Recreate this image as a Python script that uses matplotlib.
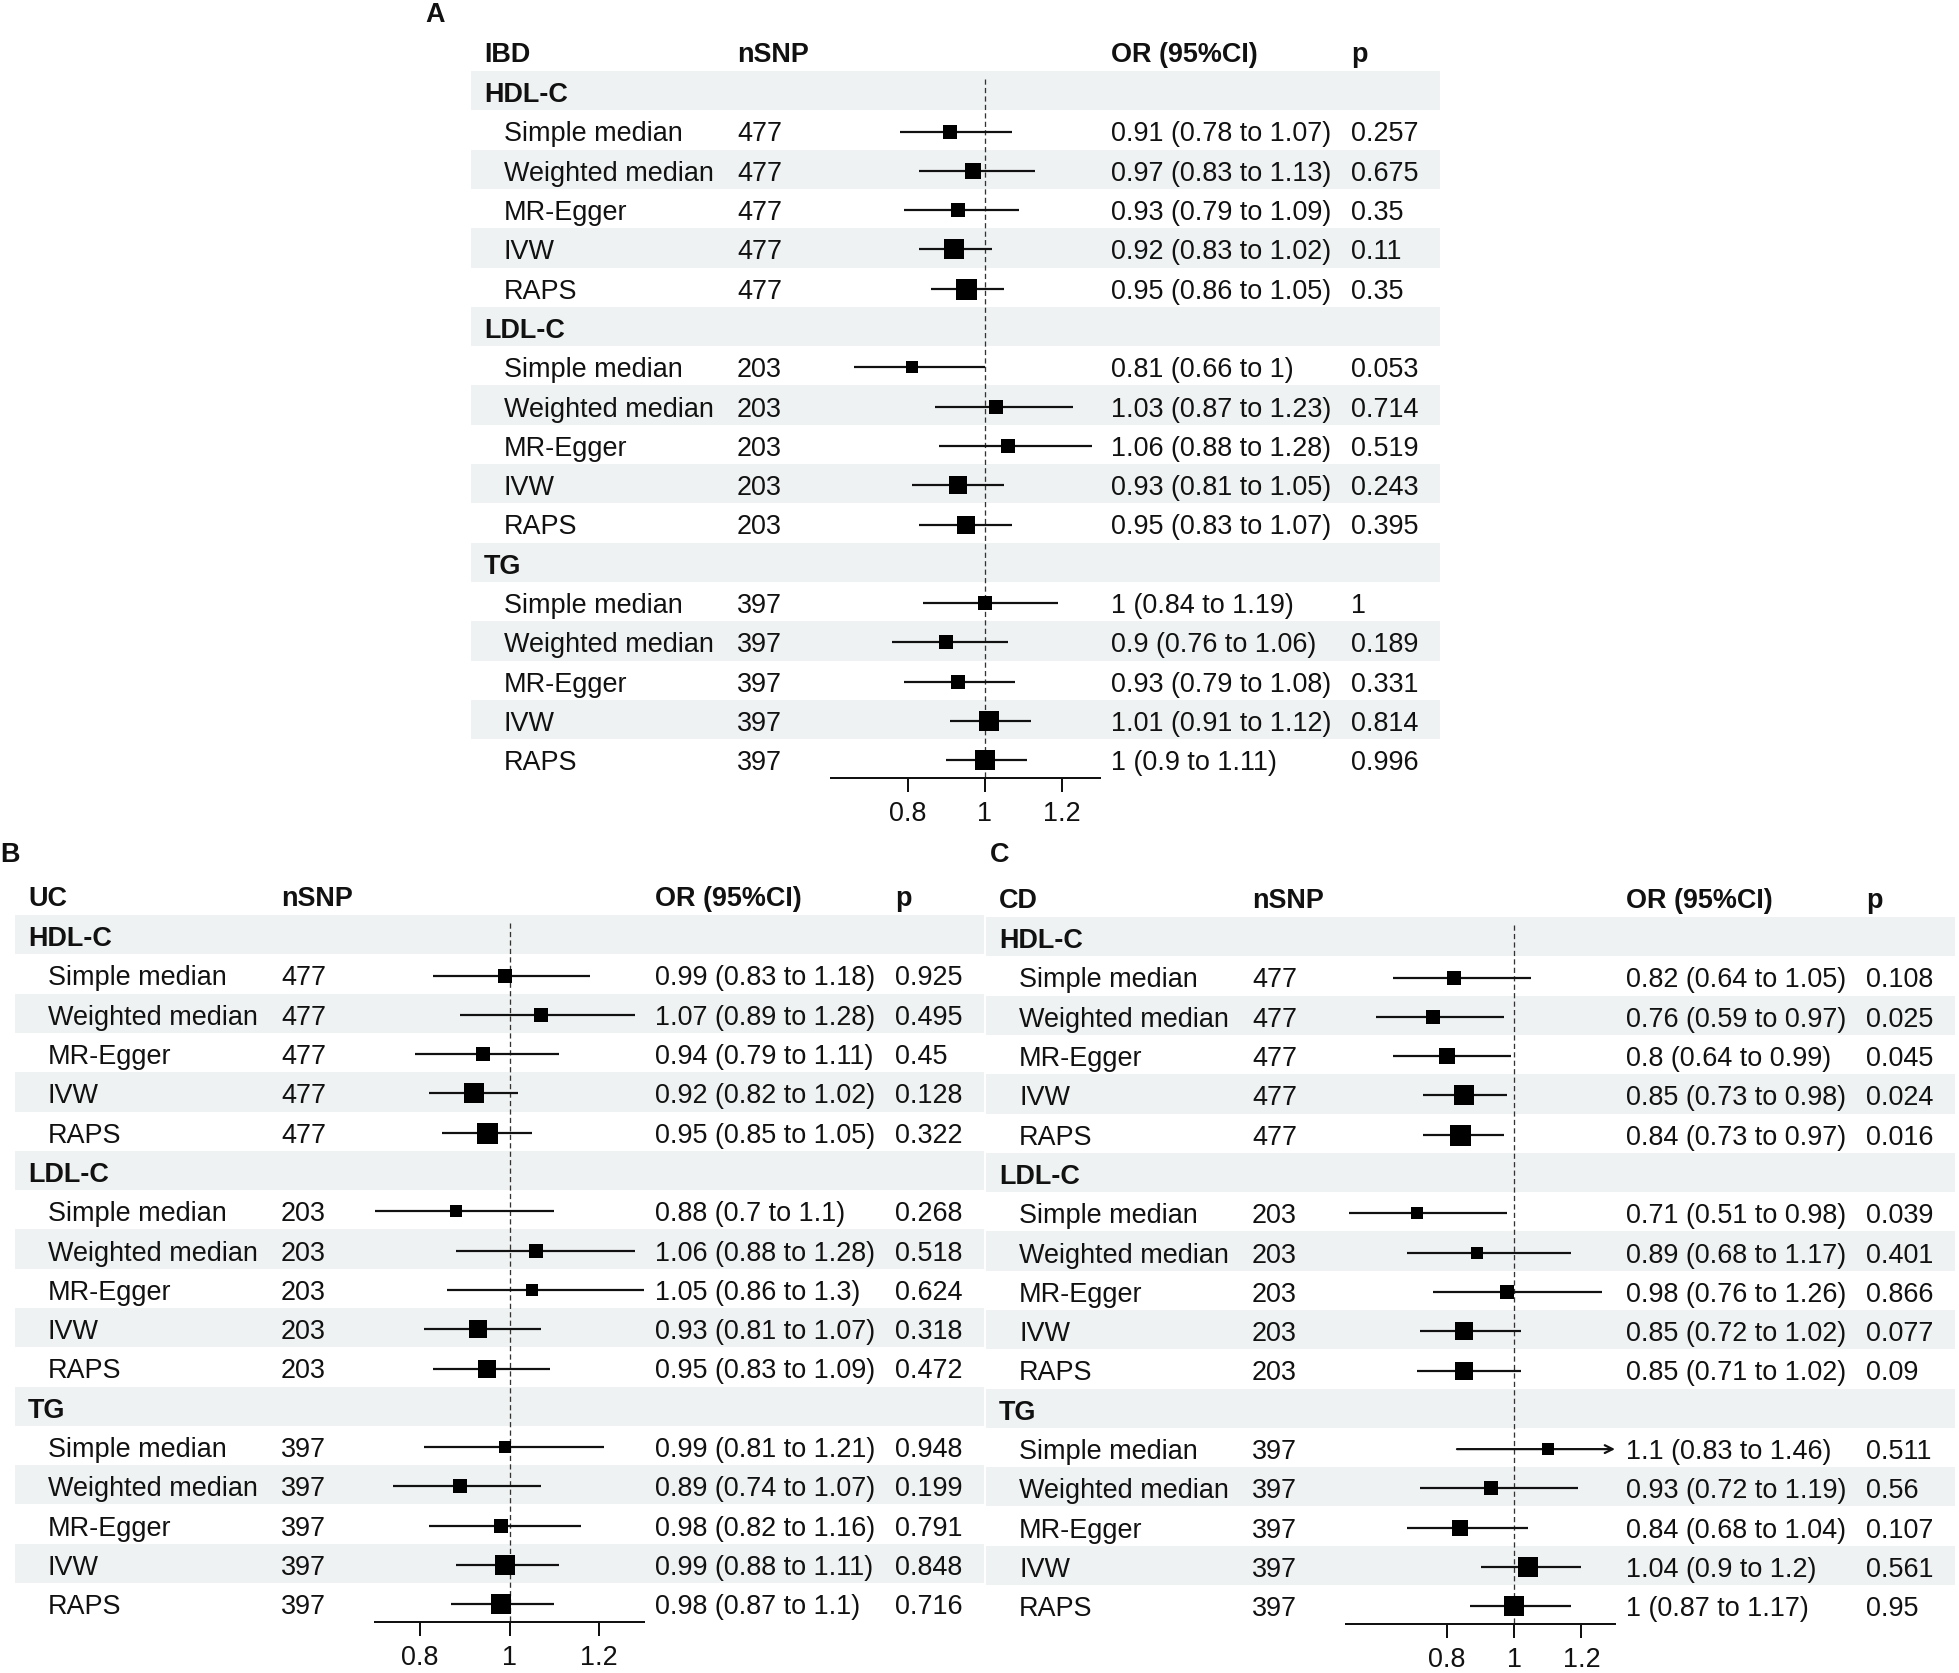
import numpy as np
import matplotlib
matplotlib.use('Agg')
import matplotlib.pyplot as plt
from matplotlib.patches import Rectangle

plt.rcParams['font.family'] = ['Liberation Sans', 'DejaVu Sans']

# ---------------- data ----------------
groups = ['HDL-C', 'LDL-C', 'TG']
methods = ['Simple median', 'Weighted median', 'MR-Egger', 'IVW', 'RAPS']
nsnp = [477, 203, 397]
ticks = [0.8, 1, 1.2]
tick_labels = ['0.8', '1', '1.2']

ibd_or = [0.91, 0.97, 0.93, 0.92, 0.95,
          0.81, 1.03, 1.06, 0.93, 0.95,
          1.00, 0.90, 0.93, 1.01, 1.00]
ibd_lo = [0.78, 0.83, 0.79, 0.83, 0.86,
          0.66, 0.87, 0.88, 0.81, 0.83,
          0.84, 0.76, 0.79, 0.91, 0.90]
ibd_hi = [1.07, 1.13, 1.09, 1.02, 1.05,
          1.00, 1.23, 1.28, 1.05, 1.07,
          1.19, 1.06, 1.08, 1.12, 1.11]
ibd_p = [0.257, 0.675, 0.35, 0.11, 0.35,
         0.053, 0.714, 0.519, 0.243, 0.395,
         1, 0.189, 0.331, 0.814, 0.996]

uc_or = [0.99, 1.07, 0.94, 0.92, 0.95,
         0.88, 1.06, 1.05, 0.93, 0.95,
         0.99, 0.89, 0.98, 0.99, 0.98]
uc_lo = [0.83, 0.89, 0.79, 0.82, 0.85,
         0.70, 0.88, 0.86, 0.81, 0.83,
         0.81, 0.74, 0.82, 0.88, 0.87]
uc_hi = [1.18, 1.28, 1.11, 1.02, 1.05,
         1.10, 1.28, 1.30, 1.07, 1.09,
         1.21, 1.07, 1.16, 1.11, 1.10]
uc_p = [0.925, 0.495, 0.45, 0.128, 0.322,
        0.268, 0.518, 0.624, 0.318, 0.472,
        0.948, 0.199, 0.791, 0.848, 0.716]

cd_or = [0.82, 0.76, 0.80, 0.85, 0.84,
         0.71, 0.89, 0.98, 0.85, 0.85,
         1.10, 0.93, 0.84, 1.04, 1.00]
cd_lo = [0.64, 0.59, 0.64, 0.73, 0.73,
         0.51, 0.68, 0.76, 0.72, 0.71,
         0.83, 0.72, 0.68, 0.90, 0.87]
cd_hi = [1.05, 0.97, 0.99, 0.98, 0.97,
         0.98, 1.17, 1.26, 1.02, 1.02,
         1.46, 1.19, 1.04, 1.20, 1.17]
cd_p = [0.108, 0.025, 0.045, 0.024, 0.016,
        0.039, 0.401, 0.866, 0.077, 0.09,
        0.511, 0.56, 0.107, 0.561, 0.95]

panels = [
    dict(letter='A', title='IBD', orv=ibd_or, lo=ibd_lo, hi=ibd_hi, p=ibd_p,
         left=471, top=71, xlim=(0.6, 1.3), lx=435, ly=12),
    dict(letter='B', title='UC', orv=uc_or, lo=uc_lo, hi=uc_hi, p=uc_p,
         left=15, top=915, xlim=(0.7, 1.3), lx=10, ly=852),
    dict(letter='C', title='CD', orv=cd_or, lo=cd_lo, hi=cd_hi, p=cd_p,
         left=986, top=917, xlim=(0.5, 1.3), lx=1000, ly=852),
]

# ---------------- layout ----------------
W, H = 1959, 1673
DPI = 100
PT = 72.0 / DPI
FS = 27 * PT
STEP = 39.3
BAND_W = 969
BAND_COL = '#eff2f2'
TXT = '#111111'
BL = 11.5   # baseline offset below a row centre (px)

fig = plt.figure(figsize=(W / DPI, H / DPI), dpi=DPI)
bg = fig.add_axes([0, 0, 1, 1])
bg.set_xlim(0, W)
bg.set_ylim(H, 0)
bg.axis('off')


def fmt(v):
    return f'{v:g}'


def txt(x, y, s, bold=False):
    bg.text(x, y + BL, s, fontsize=FS, fontweight='bold' if bold else 'normal',
            ha='left', va='baseline', color=TXT)


for pan in panels:
    L, T = pan['left'], pan['top']
    nrows = len(groups) * (len(methods) + 1)
    # bands
    for r in range(0, nrows, 2):
        bg.add_patch(Rectangle((L, T + r * STEP), BAND_W, STEP,
                               facecolor=BAND_COL, edgecolor='none', zorder=0))
    # panel letter
    bg.text(pan['lx'], pan['ly'] + 10, pan['letter'], fontsize=FS,
            fontweight='bold', ha='center', va='baseline', color=TXT)
    # header
    hy = T - 21
    for xo, s in [(13, pan['title']), (266, 'nSNP'), (640, 'OR (95%CI)'), (880, 'p')]:
        txt(L + xo, hy, s, bold=True)
    # rows
    r = 0
    idx = 0
    rows_y = []
    for g, gname in enumerate(groups):
        txt(L + 13, T + (r + 0.5) * STEP, gname, bold=True)
        r += 1
        for m in methods:
            y = T + (r + 0.5) * STEP
            txt(L + 33, y, m)
            txt(L + 266, y, str(nsnp[g]))
            s = f"{fmt(pan['orv'][idx])} ({fmt(pan['lo'][idx])} to {fmt(pan['hi'][idx])})"
            txt(L + 640, y, s)
            txt(L + 880, y, fmt(pan['p'][idx]))
            rows_y.append(r + 0.5)
            r += 1
            idx += 1

    # forest axes
    x0, x1 = L + 360, L + 629
    yb = T + nrows * STEP
    ax = fig.add_axes([x0 / W, 1 - yb / H, (x1 - x0) / W, (yb - T) / H])
    ax.set_xlim(*pan['xlim'])
    ax.set_ylim(nrows, 0)
    ax.patch.set_alpha(0)
    for sp in ['left', 'right', 'top']:
        ax.spines[sp].set_visible(False)
    ax.spines['bottom'].set_linewidth(2 * PT)
    ax.spines['bottom'].set_color(TXT)
    ax.set_yticks([])
    ax.set_xticks(ticks)
    ax.set_xticklabels(tick_labels)
    ax.tick_params(axis='x', length=14 * PT, width=2 * PT, pad=9 * PT,
                   labelsize=FS, colors=TXT)
    ax.plot([1, 1], [0.2, nrows], ls=(0, (4, 2.5)), lw=1.3 * PT, color='#333333',
            zorder=1)

    orv = np.array(pan['orv'])
    lo = np.array(pan['lo'])
    hi = np.array(pan['hi'])
    w = np.log(hi / lo)
    sizes = 21 * (w.min() / w) ** 0.75
    xmax = pan['xlim'][1]
    for k in range(len(orv)):
        y = rows_y[k] + 0.04
        if hi[k] > xmax:
            ax.annotate('', xy=(xmax, y), xytext=(lo[k], y),
                        arrowprops=dict(arrowstyle='->', lw=2.2 * PT, color=TXT,
                                        shrinkA=0, shrinkB=0, mutation_scale=14),
                        annotation_clip=False, zorder=2)
        else:
            ax.plot([lo[k], hi[k]], [y, y], lw=2.2 * PT, color=TXT,
                    solid_capstyle='butt', zorder=2)
        ax.plot([orv[k]], [y], marker='s', ms=sizes[k] * PT, mew=0, color='black',
                zorder=3, clip_on=False)

fig.savefig('out.png', dpi=DPI)
